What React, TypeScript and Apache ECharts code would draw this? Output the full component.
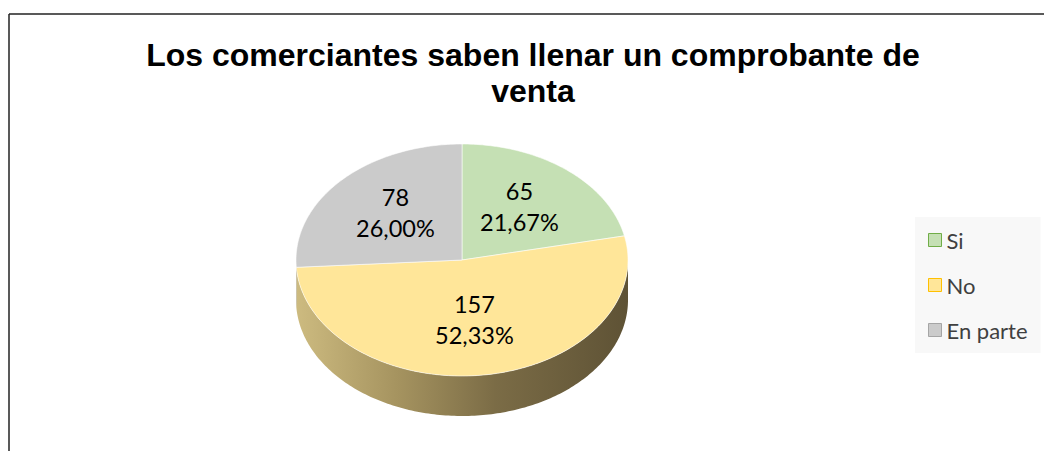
import React, { useEffect, useRef } from 'react';
import * as echarts from 'echarts';

const categories = ['Si', 'No', 'En parte'];
const values = [65, 157, 78];
const titleText = 'Los comerciantes saben llenar un comprobante de\nventa';

const topColors = ['#c5e0b4', '#ffe699', '#cbcbcb'];
const legendBorders = ['#70ad47', '#ffc000', '#a5a5a5'];
const sideStops = [
  [
    { offset: 0, color: '#9fb58f' },
    { offset: 1, color: '#4f6040' },
  ],
  [
    { offset: 0, color: '#cdbb80' },
    { offset: 0.3, color: '#a69460' },
    { offset: 0.6, color: '#7b6c46' },
    { offset: 1, color: '#5e5235' },
  ],
  [
    { offset: 0, color: '#a8a8a8' },
    { offset: 1, color: '#707070' },
  ],
];

const CX = 462;
const CY = 260;
const RX = 166;
const RY = 116;
const DEPTH = 40;
const LABEL_F = 0.55;

export default function App() {
  const ref = useRef<HTMLDivElement>(null);

  useEffect(() => {
    document.body.style.margin = '0';
    if (!ref.current) return;
    const chart = echarts.init(ref.current, undefined, { renderer: 'svg' });
    const total = values.reduce((a, b) => a + b, 0);

    const pt = (t: number, dy: number) => [CX + RX * Math.sin(t), CY - RY * Math.cos(t) + dy];
    const arc = (s: number, e: number, dy: number) => {
      const n = Math.max(2, Math.ceil((e - s) / (Math.PI / 180)));
      const out: number[][] = [];
      for (let k = 0; k <= n; k++) out.push(pt(s + ((e - s) * k) / n, dy));
      return out;
    };

    const makeRender = (i: number) => (params: any, api: any) => {
      const v = api.value(0) as number;
      const before = values.slice(0, i).reduce((a, b) => a + b, 0);
      const a0 = (before / total) * 2 * Math.PI;
      const a1 = ((before + v) / total) * 2 * Math.PI;
      const children: any[] = [];
      const s = Math.max(a0, Math.PI / 2);
      const e = Math.min(a1, (3 * Math.PI) / 2);
      if (e > s) {
        const top = arc(s, e, 0);
        const bot = arc(s, e, DEPTH).reverse();
        children.push({
          type: 'polygon',
          z2: 1,
          shape: { points: top.concat(bot) },
          style: {
            fill: new echarts.graphic.LinearGradient(CX - RX, 0, CX + RX, 0, sideStops[i], true),
            stroke: null,
          },
        });
      }
      children.push({
        type: 'polygon',
        z2: 10,
        shape: { points: [[CX, CY], ...arc(a0, a1, 0)] },
        style: { fill: topColors[i], stroke: 'rgba(255,255,255,0.55)', lineWidth: 1 },
      });
      const mid = (a0 + a1) / 2;
      const pct = ((v / total) * 100).toFixed(2).replace('.', ',') + '%';
      children.push({
        type: 'text',
        z2: 20,
        x: CX + LABEL_F * RX * Math.sin(mid),
        y: CY - LABEL_F * RY * Math.cos(mid) - 4,
        style: {
          text: `${v}\n${pct}`,
          fill: '#000',
          fontFamily: 'Lato',
          fontSize: 23.5,
          lineHeight: 31,
          align: 'center',
          verticalAlign: 'middle',
        },
      });
      return { type: 'group', children };
    };

    chart.setOption({
      animation: false,
      backgroundColor: '#fff',
      title: {
        text: titleText,
        left: 533,
        top: 37,
        padding: 0,
        textAlign: 'center',
        textStyle: {
          fontFamily: 'Liberation Sans, Arial',
          fontWeight: 'bold',
          fontSize: 32,
          lineHeight: 36,
          color: '#000',
        },
      },
      legend: {
        orient: 'vertical',
        left: 915,
        top: 217,
        padding: [12, 13, 12, 13],
        itemWidth: 13,
        itemHeight: 13,
        itemGap: 23,
        icon: 'rect',
        selectedMode: false,
        backgroundColor: '#f8f8f8',
        textStyle: { fontFamily: 'Lato', fontSize: 22, lineHeight: 22, color: '#404040' },
        data: categories.map((n, i) => ({
          name: n,
          itemStyle: { color: topColors[i], borderColor: legendBorders[i], borderWidth: 1 },
        })),
      },
      graphic: [
        { type: 'line', shape: { x1: 9, y1: 14, x2: 1044, y2: 14 }, style: { stroke: '#222', lineWidth: 1.5 } },
        { type: 'line', shape: { x1: 9, y1: 14, x2: 9, y2: 451 }, style: { stroke: '#222', lineWidth: 1.5 } },
      ],
      series: categories.map((name, i) => ({
        type: 'custom',
        name,
        coordinateSystem: 'none',
        silent: true,
        itemStyle: { color: topColors[i] },
        renderItem: makeRender(i),
        data: [[values[i]]],
      })),
    });
    return () => chart.dispose();
  }, []);

  return <div ref={ref} style={{ width: 1044, height: 451 }} />;
}
